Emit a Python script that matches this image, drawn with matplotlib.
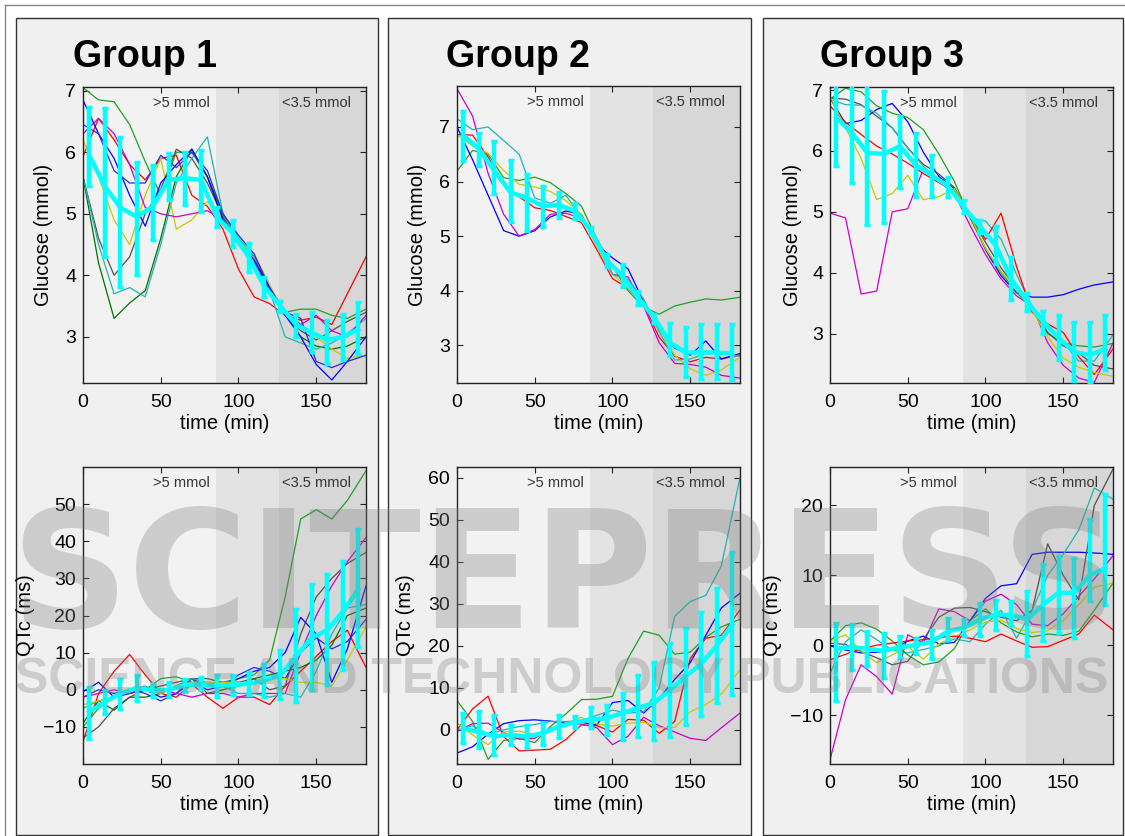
import numpy as np
import matplotlib
matplotlib.use("Agg")
import matplotlib.pyplot as plt
from matplotlib.patches import Rectangle
from matplotlib.lines import Line2D

plt.rcParams['font.family'] = ['Liberation Sans', 'DejaVu Sans']

# sample times of the individual subject traces (min)
t_min = [0, 10, 20, 30, 40, 50, 60, 70, 80, 90, 100, 110, 120, 130, 140, 150, 160, 170, 182]
# times of the group mean / error bars (min)
t_bar = [4, 14, 24, 34.5, 45, 55, 65.5, 76, 86, 96.5, 106.5, 116.5, 127, 137, 147, 157, 167, 177]

# ---- Group 1 ----
g1_glu = {
    'red':     [5.93, 6.55, 6.2, 5.8, 5.55, 5.9, 5.95, 5.3, 5.12, 4.75, 4.1, 3.65, 3.54, 3.35, 3.27, 3.32, 3.2, 3.7, 4.3],
    'green':   [7.05, 6.85, 6.82, 6.45, 5.85, 5.3, 6.0, 6.0, 5.6, 4.95, 4.5, 4.2, 3.7, 3.4, 3.45, 3.45, 3.35, 3.3, 3.45],
    'dkgreen': [5.6, 4.2, 3.3, 3.55, 3.75, 4.6, 5.6, 6.05, 5.6, 5.0, 4.6, 4.3, 3.8, 3.4, 3.0, 2.85, 2.8, 2.85, 3.0],
    'gray':    [5.6, 4.6, 4.0, 4.3, 5.0, 5.4, 6.05, 5.9, 5.5, 4.95, 4.55, 4.2, 3.8, 3.35, 3.1, 2.95, 3.1, 3.25, 3.4],
    'teal':    [5.6, 4.5, 3.7, 3.8, 3.65, 4.5, 5.5, 5.9, 6.25, 5.0, 4.6, 4.3, 3.75, 3.0, 2.9, 2.8, 2.9, 3.05, 3.3],
    'yellow':  [6.2, 5.6, 4.9, 4.5, 5.3, 5.9, 4.75, 4.9, 5.2, 4.9, 4.55, 4.35, 3.85, 3.35, 3.2, 3.0, 2.8, 2.65, 2.7],
    'magenta': [6.3, 6.55, 6.3, 5.8, 5.1, 5.0, 4.95, 5.0, 5.05, 4.9, 4.5, 4.2, 3.75, 3.4, 3.2, 3.35, 3.1, 3.0, 3.35],
    'blue':    [6.85, 6.3, 5.9, 5.3, 4.8, 5.5, 5.8, 6.05, 5.6, 4.9, 4.55, 4.25, 3.8, 3.35, 3.0, 2.55, 2.3, 2.6, 3.0],
    'blue2':   [6.45, 6.3, 5.7, 5.5, 5.5, 5.95, 5.75, 6.0, 5.7, 5.0, 4.65, 4.35, 3.8, 3.4, 3.3, 2.6, 2.5, 2.6, 2.7],
}
g1_glu_mean = [5.95, 5.45, 5.1, 4.95, 5.12, 5.55, 5.58, 5.55, 4.95, 4.68, 4.3, 3.82, 3.5, 3.2, 3.07, 2.95, 3.0, 3.12]
g1_glu_lo = [5.45, 4.3, 3.81, 4.0, 4.57, 5.22, 5.14, 5.03, 4.79, 4.46, 4.05, 3.65, 3.4, 3.0, 2.75, 2.56, 2.62, 2.72]
g1_glu_hi = [6.73, 6.72, 6.25, 5.84, 5.8, 5.98, 6.01, 6.04, 5.11, 4.9, 4.52, 3.97, 3.59, 3.37, 3.4, 3.27, 3.37, 3.57]

g1_qtc = {
    'red':     [-14, -1, 5, 9.5, 4, -1, -2, 1.5, -2, -5, -2, -2, -4, 1, 5, 9, 13, 16, 6],
    'green':   [-10, -5, -2, -1, 0, 3, 3.5, 2, 1.5, 2, 3, 4, 8, 25, 46, 48.5, 46, 51, 59],
    'dkgreen': [-9, -3, -5.5, -2, -2, -1, 1, 3, -1, 0, 1, 3, 4, 5, 6, 8, 12, 20, 22],
    'gray':    [-13, -10, -5, -2, 0, 1, 2, 3, 3, 2, 2, 3, 0, 1, 15, 25, 30, 34, 37],
    'blue':    [-0.5, 2, -2, -1, 0, -2, -1, 2, 0, 1, 3, 5, 6, 10, 19.5, 15, 2, 11, 28],
    'blue2':   [-2, 0, -1, 0, -1, -3, -1, 3, 1, 1, 4, 6, 5, 3, 10, 14, 11, 13, 19],
    'magenta': [-2, -1, 0, -1, 0.5, 0, -1, -2, -1, -1, -2, -1, -1, -1, 10, 20, 28, 34.5, 41],
    'teal':    [-5, -3, -2, 0, 1, -1, 1, 3, 2, 1, -1, -1, -2, -1, -2, 5, 15, 22, 23],
    'yellow':  [-4, -3, -2, 0, 0, -1, 1, 2, 2, 2, 2, 2, 3, 3, 2, 2, 1, 8, 17],
}
g1_qtc_mean = [-6, -3.3, -1, 0.5, -0.2, 0, 1.2, 1.5, 1, 1.3, 1.6, 2.5, 4, 9, 14, 16, 21, 27]
g1_qtc_lo = [-13.2, -6.5, -5.1, -2.9, -2, -2, -0.6, -0.2, -2, -1.5, -1.5, -2, -2.4, -3.3, -0.2, 1.2, 5.2, 11.5]
g1_qtc_hi = [0.7, -0.2, 3, 3.9, 1.6, 2.1, 3, 3.4, 3.9, 4.1, 4.7, 7, 10.6, 21.8, 28.5, 31.2, 34.8, 43.3]

# ---- Group 2 ----
g2_glu = {
    'red':     [6.86, 6.85, 6.45, 5.95, 5.72, 5.52, 5.47, 5.36, 5.25, 4.75, 4.22, 4.05, 3.75, 3.15, 2.8, 2.7, 2.78, 2.75, 2.82],
    'green':   [6.19, 6.57, 6.5, 6.07, 6.02, 6.08, 5.98, 5.78, 5.55, 4.95, 4.45, 4.0, 3.7, 3.57, 3.72, 3.79, 3.85, 3.83, 3.88],
    'blue':    [7.0, 6.4, 5.75, 5.1, 5.0, 5.1, 5.35, 5.46, 5.4, 4.85, 4.6, 4.4, 3.8, 3.3, 2.95, 2.82, 3.08, 2.75, 2.85],
    'magenta': [7.7, 7.2, 6.15, 5.4, 5.0, 5.12, 5.4, 5.42, 5.33, 4.95, 4.3, 4.25, 3.72, 3.05, 2.67, 2.65, 2.6, 2.45, 2.4],
    'yellow':  [6.86, 6.65, 6.52, 6.2, 5.95, 5.9, 5.82, 5.65, 5.4, 4.8, 4.3, 4.05, 3.8, 3.3, 2.82, 2.57, 2.45, 2.55, 2.78],
    'teal':    [7.15, 6.95, 7.0, 6.75, 6.5, 5.7, 5.6, 5.75, 5.35, 4.85, 4.3, 4.2, 3.85, 3.25, 2.73, 2.75, 2.85, 2.85, 2.8],
}
g2_glu_mean = [6.85, 6.6, 6.2, 5.8, 5.7, 5.55, 5.57, 5.46, 5.1, 4.55, 4.27, 3.87, 3.5, 3.05, 2.87, 2.87, 2.87, 2.85]
g2_glu_lo = [6.37, 6.28, 5.77, 5.25, 5.1, 5.16, 5.34, 5.31, 5.04, 4.43, 4.06, 3.73, 3.4, 2.8, 2.42, 2.39, 2.39, 2.36]
g2_glu_hi = [7.29, 6.89, 6.74, 6.4, 6.13, 5.92, 5.8, 5.6, 5.16, 4.67, 4.49, 4.0, 3.58, 3.4, 3.33, 3.39, 3.39, 3.39]

g2_qtc = {
    'red':     [0, 5, 8, -1.6, -5, -4.8, -4.6, -2.3, 1.2, 1, -0.5, 2.5, 2.3, -0.8, 2, 17, 21.8, 22.5, 28.5],
    'green':   [7, 2, -7, -2.5, -2, -3, 0.8, 3.8, 7.2, 7.3, 8, 17, 23.5, 22.5, 18, 18.5, 22, 24.5, 26.3],
    'blue':    [-5.5, -4, -1, 1.5, 2.2, 2.4, 2.1, 1.6, 1.8, 1.2, 6.5, 7, 4, 7.5, 12, 16, 22.5, 29, 32.5],
    'magenta': [-0.4, 1.5, 1.6, -0.6, -2.2, -2, 0.3, 1.5, 1.4, 0.5, -3.5, -1.5, 3, 1, -0.5, -2, -2.5, 0.5, 4],
    'yellow':  [1.6, -1.2, -3.5, -0.5, -0.3, -1, 0, 1.5, 3, 1.4, 0.9, 1.6, 1.8, 0.5, 0.6, 4.3, 6, 8.5, 14.3],
    'teal':    [0, 1, -1, 0, 0.8, 1.3, 2, 2, 2.2, 3.5, 4.7, 4, 4.3, 10, 27, 30.5, 32, 39, 60],
}
g2_qtc_mean = [0.4, -0.5, -1.5, -1.2, -1.6, -0.8, 0.8, 1.8, 2.5, 2.8, 4, 5.2, 6.5, 9.5, 12.7, 15.7, 20, 25]
g2_qtc_lo = [-3.2, -4.4, -6, -3.6, -4.4, -3.6, -2, 0.4, 0.4, -1.2, -2.4, -1.6, -2.4, -1.6, 1.2, 3.2, 6.3, 8.3]
g2_qtc_hi = [4, 4.4, 3.6, 1.2, 1.2, 2, 3.6, 3.2, 5.5, 6, 8.7, 13, 16.2, 20.6, 24.2, 28.1, 33.7, 42.4]

# ---- Group 3 ----
g3_glu = {
    'magenta': [4.98, 4.9, 3.65, 3.7, 5.0, 5.05, 5.7, 5.5, 5.3, 4.78, 4.3, 3.9, 3.62, 3.45, 2.85, 2.48, 2.27, 2.2, 2.85],
    'blue':    [6.87, 6.45, 6.5, 6.68, 6.78, 6.48, 5.98, 5.58, 5.38, 4.95, 4.38, 3.95, 3.67, 3.6, 3.6, 3.64, 3.73, 3.8, 3.85],
    'green':   [6.85, 7.03, 6.97, 6.74, 6.62, 6.55, 6.35, 5.95, 5.5, 4.9, 4.4, 4.0, 3.68, 3.4, 3.0, 2.85, 2.8, 2.78, 2.84],
    'gray':    [6.87, 6.85, 6.76, 6.57, 6.38, 6.05, 5.78, 5.62, 5.4, 4.95, 4.5, 4.08, 3.75, 3.45, 3.02, 2.8, 2.68, 2.48, 2.42],
    'teal':    [6.85, 6.76, 6.75, 6.62, 6.38, 6.05, 5.75, 5.5, 5.35, 4.9, 4.85, 4.55, 3.97, 3.45, 3.15, 2.85, 2.55, 2.55, 2.98],
    'red':     [6.74, 6.47, 6.27, 6.08, 5.95, 5.8, 5.63, 5.48, 5.33, 4.95, 4.55, 4.98, 4.1, 3.35, 3.16, 3.02, 2.62, 2.33, 2.75],
    'yellow':  [6.9, 6.38, 5.88, 5.2, 5.3, 5.6, 5.2, 5.25, 5.38, 4.95, 4.4, 4.02, 3.75, 3.38, 2.95, 2.6, 2.45, 2.36, 2.3],
}
g3_glu_mean = [6.55, 6.3, 5.97, 5.95, 6.08, 5.77, 5.6, 5.42, 5.08, 4.76, 4.45, 3.9, 3.52, 3.2, 2.93, 2.7, 2.65, 2.75]
g3_glu_lo = [5.75, 5.48, 4.79, 4.81, 5.39, 5.25, 5.25, 5.25, 4.98, 4.65, 4.15, 3.55, 3.38, 3.0, 2.56, 2.23, 2.2, 2.4]
g3_glu_hi = [7.3, 7.1, 7.1, 6.98, 6.57, 6.3, 5.94, 5.58, 5.2, 4.87, 4.76, 4.26, 3.66, 3.38, 3.3, 3.19, 3.19, 3.3]

g3_qtc = {
    'magenta': [-16.4, -7.8, -2.8, -4.5, -7, 1.5, 0.3, 5.2, 4.8, 3.5, 6.3, 7.3, 5.8, 3, 2.8, 4.5, 7, 9.5, 12.8],
    'blue':    [-0.1, -0.7, -1.1, -1, -0.7, 0.6, 1.3, 0.2, 0.4, 3.5, 6.7, 8.5, 8.8, 13, 13.3, 13.3, 13.3, 13.2, 13],
    'gray':    [0.3, 0.1, -0.9, -1.8, -2.8, -2.3, 0.8, 4, 5.3, 5.4, 4.8, 4, 3.5, 5, 14.5, 10, 6.5, 20, 25.2],
    'teal':    [-4, 0.5, 2.2, 0.8, -0.7, -1.1, -0.6, -0.1, 0.9, 0.5, 3, 5, 1, 5, 10, 13, 16.5, 22.5, 20.9],
    'green':   [0.6, 2.8, 3.2, 2.3, 0.6, -1.4, -2.8, -2.4, -0.5, 3.5, 5.2, 3.2, 1.9, 1.2, 1.6, 1.4, 2, 5, 8.9],
    'yellow':  [0.6, 1.5, -0.8, -2.5, -1.4, -0.2, -2, 0.2, 1.2, 2.2, 3.3, 3.6, 2.4, 1.8, 2.1, 3.5, 5.8, 8.3, 8.9],
    'red':     [-2.1, -1.3, -0.5, 0, 0.3, 0.6, 0.8, 1.1, 1.3, 1, 0.5, 1.6, 0.6, -0.3, -0.2, 0.7, 1.6, 4.3, 2.2],
}
g3_qtc_mean = [-0.5, -0.3, -0.5, -0.8, -0.3, 0, 0.5, 2, 2.5, 3.7, 4.4, 4.3, 3.7, 5.8, 7.5, 7.5, 10, 11]
g3_qtc_lo = [-8, -3.5, -3, -4.7, -1.8, -1.3, -2, 0.8, 1.3, 1.3, 2.2, 2.7, -1.6, 0.6, 1.8, 1, 6.3, 5.8]
g3_qtc_hi = [3.2, 3, 2, 1.8, 1.3, 1, 2.2, 3.9, 3.7, 6, 6.5, 6.3, 7.8, 11.6, 12.8, 12.5, 18, 21.6]

colors = {
    'red': '#ff0000', 'green': '#22a022', 'dkgreen': '#007000', 'gray': '#505050',
    'teal': '#20b4b4', 'yellow': '#c8c800', 'magenta': '#cc00cc', 'blue': '#0000ff',
    'blue2': '#2a2ae0',
}

W, H = 1125, 836
fig = plt.figure(figsize=(W / 100, H / 100), dpi=100)
fig.patch.set_facecolor('white')


def add_ax(l, t, r, b):
    return fig.add_axes([l / W, 1 - b / H, (r - l) / W, (b - t) / H])


def draw(ax, curves, mean, lo, hi, ylim, yticks, ylabel, labx):
    ax.set_facecolor('#f2f2f2')
    ax.axvspan(85.5, 126, color='#e3e3e3', lw=0, zorder=0)
    ax.axvspan(126, 182, color='#d7d7d7', lw=0, zorder=0)
    for name, vals in curves.items():
        ax.plot(t_min, vals, color=colors[name], lw=0.9, zorder=2)
    m = np.array(mean)
    err = [m - np.array(lo), np.array(hi) - m]
    ax.errorbar(t_bar, m, yerr=err, color='#00ffff', lw=3.2, elinewidth=3.2,
                capsize=2.5, capthick=2.5, zorder=3)
    tr = ax.get_xaxis_transform()
    ax.text(63, 0.945, '>5 mmol', transform=tr, ha='center', va='center',
            fontsize=10.5, color='#333333', zorder=4)
    ax.text(150, 0.945, '<3.5 mmol', transform=tr, ha='center', va='center',
            fontsize=10.5, color='#333333', zorder=4)
    ax.set_xlim(0, 182)
    ax.set_ylim(*ylim)
    ax.set_xticks([0, 50, 100, 150])
    ax.set_yticks(yticks)
    ax.tick_params(direction='in', top=True, right=True, length=4, width=0.8,
                   labelsize=14, colors='#222222', labelcolor='black')
    ax.tick_params(axis='x', pad=8)
    ax.tick_params(axis='y', pad=5)
    for s in ax.spines.values():
        s.set_color('#222222')
        s.set_linewidth(1)
    ax.set_xlabel('time (min)', fontsize=14.5, labelpad=2)
    ax.set_ylabel(ylabel, fontsize=14.5)
    ax.yaxis.set_label_coords(labx, 0.5)


# panel frames
for l, r in [(16, 378), (388, 751), (763, 1123)]:
    fig.add_artist(Rectangle((l / W, 1 - 835 / H), (r - l) / W, (835 - 18) / H,
                             transform=fig.transFigure, fc='#f0f0f0', ec='#333333',
                             lw=1, zorder=-1))
fig.add_artist(Line2D([5 / W, 1], [1 - 5 / H, 1 - 5 / H], transform=fig.transFigure,
                      color='#888888', lw=1))
fig.add_artist(Line2D([5 / W, 5 / W], [0, 1 - 5 / H], transform=fig.transFigure,
                      color='#888888', lw=1))

for x0, name in [(73, 'Group 1'), (446, 'Group 2'), (820, 'Group 3')]:
    fig.text(x0 / W, 1 - 67 / H, name, fontsize=27, fontweight='bold', va='baseline')

ax = add_ax(83, 87, 366, 383)
draw(ax, g1_glu, g1_glu_mean, g1_glu_lo, g1_glu_hi, (2.25, 7.06), [3, 4, 5, 6, 7],
     'Glucose (mmol)', -0.106)
ax = add_ax(83, 467, 366, 764)
draw(ax, g1_qtc, g1_qtc_mean, g1_qtc_lo, g1_qtc_hi, (-20, 60), [-10, 0, 10, 20, 30, 40, 50],
     'QTc (ms)', -0.17)

ax = add_ax(457, 86, 740, 383)
draw(ax, g2_glu, g2_glu_mean, g2_glu_lo, g2_glu_hi, (2.31, 7.75), [3, 4, 5, 6, 7],
     'Glucose (mmol)', -0.106)
ax = add_ax(457, 467, 740, 764)
draw(ax, g2_qtc, g2_qtc_mean, g2_qtc_lo, g2_qtc_hi, (-8.1, 62.5), [0, 10, 20, 30, 40, 50, 60],
     'QTc (ms)', -0.148)

ax = add_ax(830, 87, 1113, 383)
draw(ax, g3_glu, g3_glu_mean, g3_glu_lo, g3_glu_hi, (2.19, 7.05), [3, 4, 5, 6, 7],
     'Glucose (mmol)', -0.099)
ax = add_ax(830, 467, 1113, 764)
draw(ax, g3_qtc, g3_qtc_mean, g3_qtc_lo, g3_qtc_hi, (-17, 25.5), [-10, 0, 10, 20],
     'QTc (ms)', -0.17)

# publisher watermark
fig.text(10 / W, 1 - 583 / H, 'SCITEPRESS', fontsize=118, fontweight='bold',
         color='#808080', alpha=0.32, va='center', ha='left', zorder=50,
         family=['DejaVu Sans'])
fig.text(15 / W, 1 - 680 / H, 'SCIENCE AND TECHNOLOGY PUBLICATIONS', fontsize=36,
         fontweight='bold', color='#808080', alpha=0.32, va='center', ha='left', zorder=50)

fig.savefig('out.png', dpi=100)
